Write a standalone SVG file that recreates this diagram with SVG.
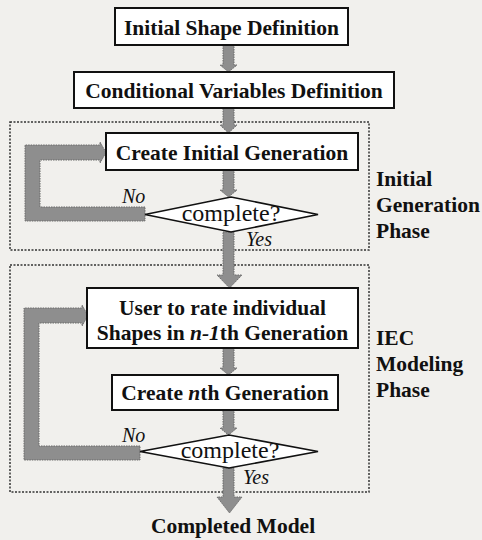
<svg xmlns="http://www.w3.org/2000/svg" width="482" height="540" viewBox="0 0 482 540">
  <style>
    .bg { fill: #f1f0ed; }
    .box { fill: #ffffff; stroke: #111; stroke-width: 2; }
    .dia { fill: #ffffff; stroke: #111; stroke-width: 1.6; }
    .phase { fill: none; stroke: #333; stroke-width: 1.5; stroke-dasharray: 2 1.5; }
    .flow { fill: #8e8e8e; stroke: #6a6a6a; stroke-width: 1; stroke-dasharray: 1.5 1; }
    text { font-family: "Liberation Serif", "DejaVu Serif", "Noto Serif", "Times New Roman", Times, serif; fill: #111; }
    .lbl { font-weight: bold; font-size: 21.5px; }
    .side { font-weight: bold; font-size: 21.5px; }
    .cond { font-size: 24px; }
    .ans { font-style: italic; font-size: 20px; }
  </style>
  <rect class="bg" x="0" y="0" width="482" height="540"/>

  <!-- phase frames -->
  <g id="phase-initial">
    <rect class="phase" x="10" y="122" width="359" height="128"/>
    <text class="side" x="376" y="186">Initial</text>
    <text class="side" x="376" y="212">Generation</text>
    <text class="side" x="376" y="238">Phase</text>
  </g>
  <g id="phase-iec">
    <rect class="phase" x="10" y="265" width="359" height="227"/>
    <text class="side" x="376" y="345">IEC</text>
    <text class="side" x="376" y="371">Modeling</text>
    <text class="side" x="376" y="397">Phase</text>
  </g>

  <!-- connectors -->
  <g id="connectors">
    <polygon class="flow" points="223,45 234,45 234,65 237,65 228.5,72 220,65 223,65"/>
    <polygon class="flow" points="223,108 234,108 234,125 237,125 228.5,133 220,125 223,125"/>
    <polygon class="flow" points="223,170 234,170 234,190 237,190 228.5,197 220,190 223,190"/>
    <polygon class="flow" points="223,232 234,232 234,275 242,275 229.5,288 217,275 223,275"/>
    <polygon class="flow" points="223,348 234,348 234,368 237,368 228.5,375 220,368 223,368"/>
    <polygon class="flow" points="223,410 234,410 234,428 237,428 228.5,435 220,428 223,428"/>
    <polygon class="flow" points="223,468 234,468 234,497 242,497 229.5,513 217,497 223,497"/>
    <!-- retry loop of the initial phase -->
    <polygon class="flow" points="145,207 40,207 40,160 100,160 100,163 106,152.5 100,142 100,145 25,145 25,221 145,221"/>
    <!-- retry loop of the IEC phase -->
    <polygon class="flow" points="140,446 39,446 39,323 82,323 82,326 88,315.5 82,305 82,308 24,308 24,460 140,460"/>
    <text class="ans" x="122" y="203">No</text>
    <text class="ans" x="246" y="246">Yes</text>
    <text class="ans" x="122" y="442">No</text>
    <text class="ans" x="243" y="484">Yes</text>
  </g>

  <!-- nodes -->
  <g id="initial-shape">
    <rect class="box" x="115" y="8" width="233" height="37"/>
    <text class="lbl" x="231.5" y="35" text-anchor="middle">Initial Shape Definition</text>
  </g>
  <g id="conditional-variables">
    <rect class="box" x="74" y="72" width="320" height="36"/>
    <text class="lbl" x="234" y="98" text-anchor="middle">Conditional Variables Definition</text>
  </g>
  <g id="create-initial">
    <rect class="box" x="106" y="133" width="252" height="37"/>
    <text class="lbl" x="232" y="160" text-anchor="middle">Create Initial Generation</text>
  </g>
  <g id="check-initial">
    <polygon class="dia" points="145,214.5 231,197 318,214.5 231,232"/>
    <text class="cond" x="231" y="221" text-anchor="middle">complete?</text>
  </g>
  <g id="user-rating">
    <rect class="box" x="87" y="288" width="271" height="60"/>
    <text class="lbl" x="222.5" y="315" text-anchor="middle">User to rate individual</text>
    <text class="lbl" x="222.5" y="340" text-anchor="middle">Shapes in <tspan font-style="italic">n-1</tspan>th Generation</text>
  </g>
  <g id="create-nth">
    <rect class="box" x="112" y="375" width="226" height="35"/>
    <text class="lbl" x="225" y="400" text-anchor="middle">Create <tspan font-style="italic">n</tspan>th Generation</text>
  </g>
  <g id="check-iec">
    <polygon class="dia" points="140,451.5 229,435 318,451.5 229,468"/>
    <text class="cond" x="230" y="458" text-anchor="middle">complete?</text>
  </g>
  <g id="completed-model">
    <text class="lbl" x="233" y="533" text-anchor="middle">Completed Model</text>
  </g>
</svg>
